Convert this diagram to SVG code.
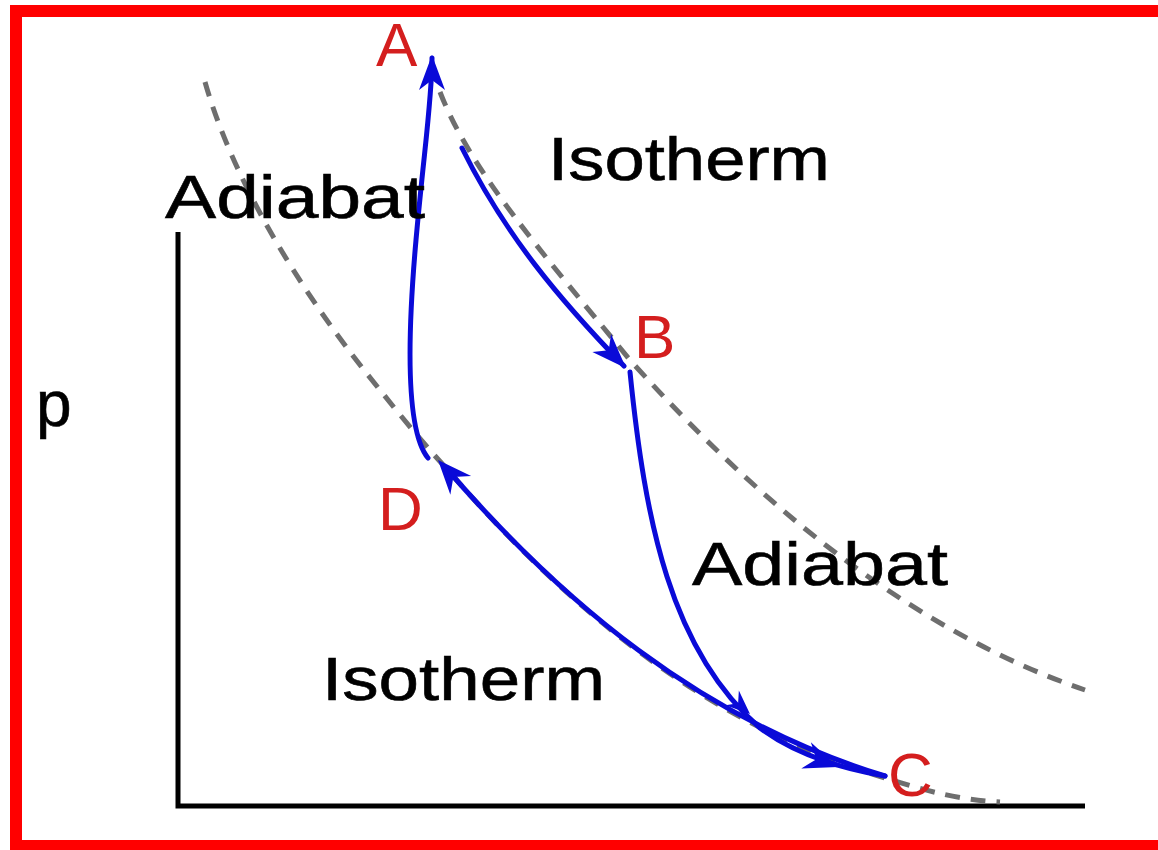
<svg xmlns="http://www.w3.org/2000/svg" width="1158" height="850" viewBox="0 0 1158 850">
  <defs>
    <style>
      .lbl { font-family: "Liberation Sans", Arial, sans-serif; fill: #000; stroke: #000; stroke-width: 0.6; }
      .pt { font-family: "Liberation Sans", Arial, sans-serif; fill: #d41e1e; font-size: 62px; }
      .dash { fill: none; stroke: #6e6e6e; stroke-width: 5; stroke-dasharray: 15 11; }
      .cyc { fill: none; stroke: #0a0ad8; stroke-width: 5; stroke-linecap: round; }
      .axis { fill: none; stroke: #000; stroke-width: 5; }
      .head { fill: #0a0ad8; }
    </style>
    <marker id="arr" markerUnits="userSpaceOnUse" markerWidth="60" markerHeight="60" refX="0" refY="0" viewBox="-30 -30 60 60" orient="auto" overflow="visible">
      <path class="head" d="M3,0 L-32,-13 L-22,0 L-32,13 Z"/>
    </marker>
  </defs>
  <rect x="0" y="0" width="1158" height="850" fill="#ffffff"/>
  <g id="frame" fill="#ff0000">
    <rect x="10" y="5" width="1148" height="12"/>
    <rect x="10" y="5" width="12" height="845"/>
    <rect x="10" y="840" width="1148" height="10"/>
  </g>
  <g id="axes">
    <polyline class="axis" points="178,232 178,806 1085,806"/>
  </g>
  <g id="curves">
    <path class="dash" d="M205,82 C230,170 290,280 380,390 C400,415 422,442 446,468 C560,600 700,722 885,778 C930,792 960,800 1000,802"/>
    <path class="dash" d="M440,92 C470,170 540,250 630,360 C720,460 880,620 1085,690"/>
  </g>
  <g id="connectors">
    <path class="cyc" d="M462,148 C505,235 560,300 624,366" marker-end="url(#arr)"/>
    <path class="cyc" d="M630,372 C645,520 670,650 760,728 C800,758 850,770 885,776"/>
    <path class="cyc" d="M446,468 C560,600 700,720 885,776"/>
    <path class="cyc" d="M428,458 C405,430 408,330 416,240 C424,150 432,100 432,58" marker-end="url(#arr)"/>
    <path class="head" d="M0,0 L-34,-14 L-23,0 L-34,14 Z" transform="translate(838,767) rotate(20)"/>
    <path class="head" d="M0,0 L-24,-10 L-16,0 L-24,10 Z" transform="translate(750,714) rotate(42)"/>
    <path class="head" d="M0,0 L-34,-14 L-23,0 L-34,14 Z" transform="translate(438,460) rotate(-132)"/>
  </g>
  <g id="node-A"><text class="pt" x="376" y="66">A</text></g>
  <g id="node-B"><text class="pt" x="634" y="358">B</text></g>
  <g id="node-C"><text class="pt" x="888" y="796">C</text></g>
  <g id="node-D"><text class="pt" x="378" y="530">D</text></g>
  <g id="label-isotherm-top"><text class="lbl" x="548" y="180" font-size="62" textLength="282" lengthAdjust="spacingAndGlyphs">Isotherm</text></g>
  <g id="label-adiabat-left"><text class="lbl" x="165" y="218" font-size="62" textLength="260" lengthAdjust="spacingAndGlyphs">Adiabat</text></g>
  <g id="label-adiabat-right"><text class="lbl" x="692" y="585" font-size="62" textLength="256" lengthAdjust="spacingAndGlyphs">Adiabat</text></g>
  <g id="label-isotherm-bottom"><text class="lbl" x="322" y="700" font-size="62" textLength="283" lengthAdjust="spacingAndGlyphs">Isotherm</text></g>
  <g id="label-p"><text class="lbl" x="36" y="426" font-size="64">p</text></g>
</svg>
